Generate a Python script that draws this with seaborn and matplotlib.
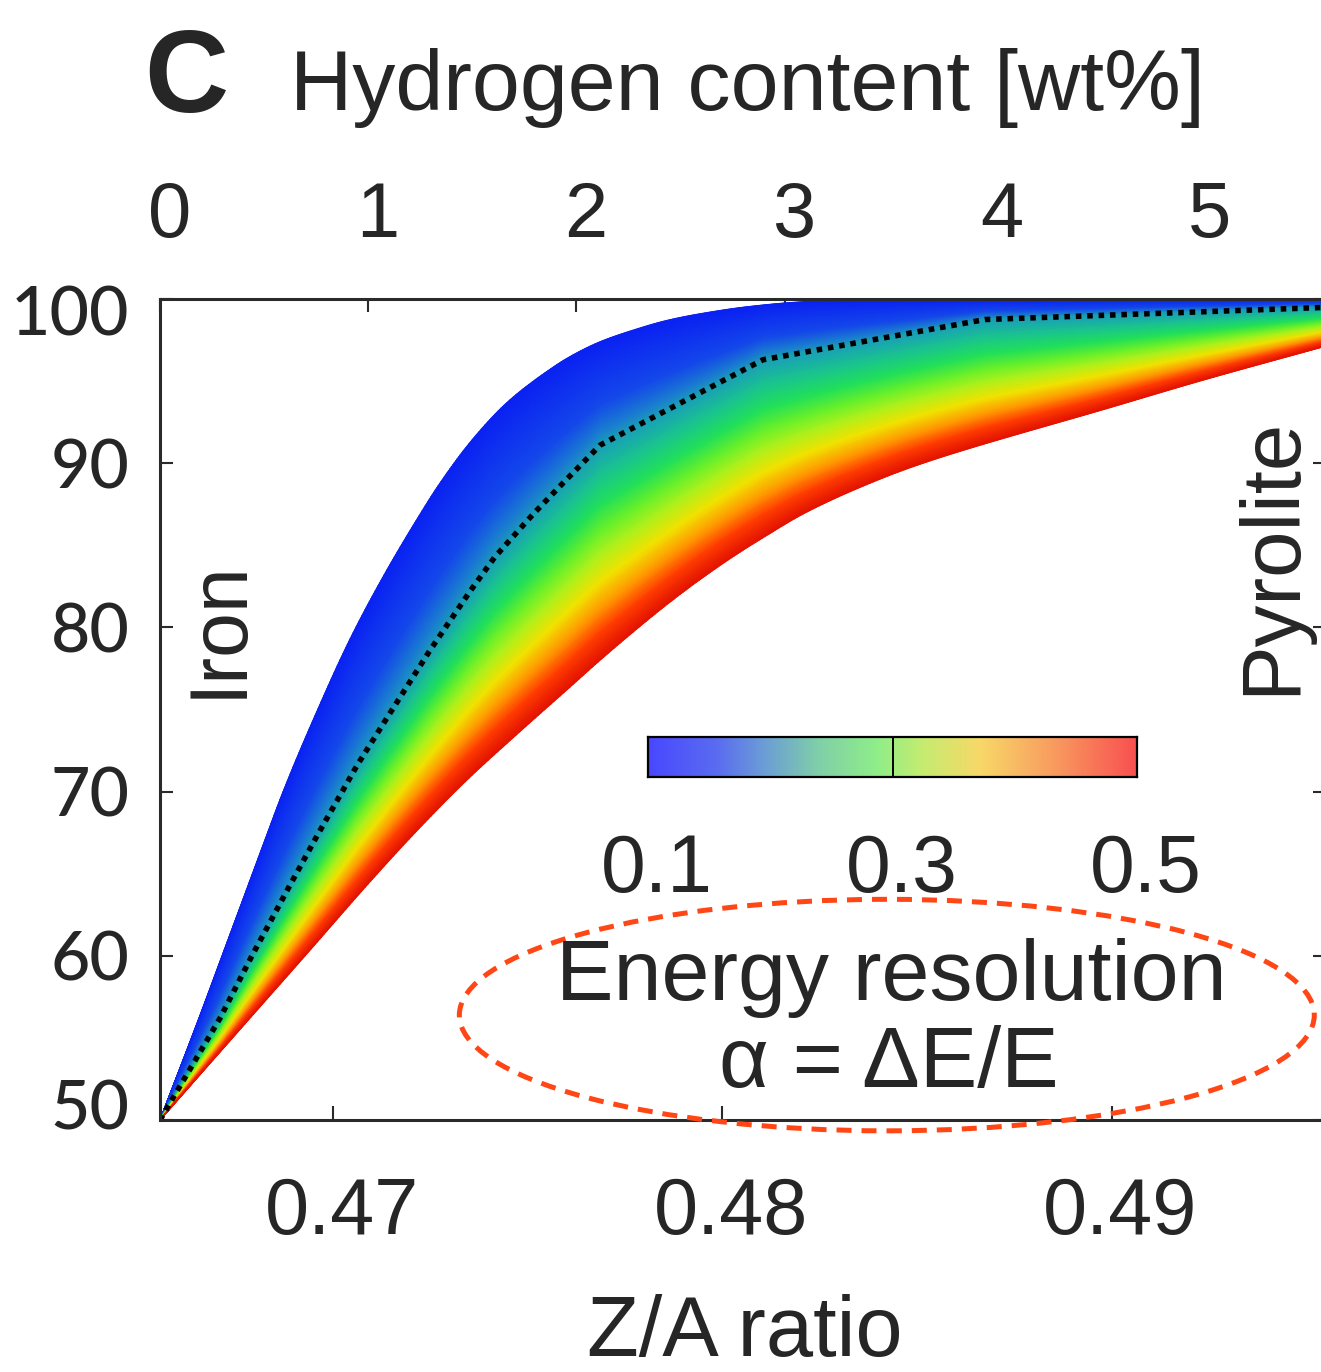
import numpy as np
import pandas as pd
import matplotlib
matplotlib.use("Agg")
import matplotlib.pyplot as plt
from matplotlib.colors import LinearSegmentedColormap
from matplotlib.patches import Ellipse
from matplotlib.transforms import ScaledTranslation
import seaborn as sns

# ---------------- data ----------------
# upper edge of the band: energy resolution alpha = 0.1
top_za = [0.46557, 0.46660, 0.46724, 0.46788, 0.46827, 0.46873, 0.46960, 0.47045,
          0.47130, 0.47217, 0.47276, 0.47361, 0.47448, 0.47533, 0.47610, 0.47687,
          0.47771, 0.47859, 0.47943, 0.48072, 0.48200, 0.48354, 0.49561]
top_val = [50.0, 56.4, 60.5, 64.6, 67.1, 70.0, 74.9, 79.3, 83.1, 86.6, 88.8, 91.5,
           93.7, 95.3, 96.5, 97.4, 98.1, 98.7, 99.1, 99.55, 99.82, 99.96, 100.0]

# dotted curve: alpha = 0.3
mid_za = [0.46557, 0.46711, 0.46793, 0.46886, 0.46960, 0.47063, 0.47148, 0.47250,
          0.47353, 0.47417, 0.47515, 0.47592, 0.47687, 0.48105, 0.48675, 0.49561]
mid_val = [50.0, 56.2, 60.0, 64.1, 67.3, 71.6, 74.8, 78.6, 82.2, 84.3, 86.9, 88.8,
           91.1, 96.3, 98.75, 99.5]

# lower edge of the band: alpha = 0.5
bot_za = [0.46557, 0.46788, 0.46937, 0.47096, 0.47212, 0.47345, 0.47474, 0.47602,
          0.47687, 0.47771, 0.47859, 0.47943, 0.48028, 0.48115, 0.48200, 0.48285,
          0.48372, 0.48457, 0.48542, 0.48629, 0.48714, 0.48970, 0.49227, 0.49561]
bot_val = [50.0, 56.2, 60.2, 64.5, 67.5, 70.7, 73.5, 76.2, 78.0, 79.7, 81.4, 82.9,
           84.3, 85.6, 86.8, 87.8, 88.7, 89.5, 90.2, 90.85, 91.45, 93.2, 95.0, 97.2]

alpha_levels = [0.1, 0.3, 0.5]
za_ticks = [0.47, 0.48, 0.49]
za_ticklabels = ["0.47", "0.48", "0.49"]
y_ticks = [50, 60, 70, 80, 90, 100]
y_ticklabels = ["50", "60", "70", "80", "90", "100"]
h_ticks = [0, 1, 2, 3, 4, 5]
h_ticklabels = ["0", "1", "2", "3", "4", "5"]
cbar_ticks = [0.1, 0.3, 0.5]
cbar_ticklabels = ["0.1", "0.3", "0.5"]
ZA_FE = 26 / 55.845   # Z/A of iron
ZA_H = 1.0            # Z/A of hydrogen
xlim = (0.46557, 0.49548)
ylim = (50, 100)

# ---------------- style ----------------
sns.set_theme(style="ticks")
plt.rcParams["font.family"] = ["Liberation Sans", "DejaVu Sans"]
plt.rcParams["axes.unicode_minus"] = False

W, H, DPI = 1321, 1372, 100
fig = plt.figure(figsize=(W / DPI, H / DPI), dpi=DPI, facecolor="white")


def px_box(x0, y0, x1, y1):
    return [x0 / W, 1 - y1 / H, (x1 - x0) / W, (y1 - y0) / H]


def pchip(x, y, xn):
    """Monotone cubic (Fritsch-Carlson) curve through the read points, for drawing."""
    x = np.asarray(x, float)
    y = np.asarray(y, float)
    h = np.diff(x)
    d = np.diff(y) / h
    m = np.zeros_like(y)
    for k in range(1, len(x) - 1):
        if d[k - 1] * d[k] > 0:
            w1 = 2 * h[k] + h[k - 1]
            w2 = h[k] + 2 * h[k - 1]
            m[k] = (w1 + w2) / (w1 / d[k - 1] + w2 / d[k])
    m[0] = d[0]
    m[-1] = d[-1]
    idx = np.clip(np.searchsorted(x, xn) - 1, 0, len(h) - 1)
    t = (xn - x[idx]) / h[idx]
    h00 = 2 * t**3 - 3 * t**2 + 1
    h10 = t**3 - 2 * t**2 + t
    h01 = -2 * t**3 + 3 * t**2
    h11 = t**3 - t**2
    return (h00 * y[idx] + h10 * h[idx] * m[idx]
            + h01 * y[idx + 1] + h11 * h[idx] * m[idx + 1])


ax = fig.add_axes(px_box(160, 299, 1325, 1120))
ax.set_facecolor("white")

band_cmap = LinearSegmentedColormap.from_list("band", [
    (0.00, "#0a22f2"), (0.30, "#1448ea"), (0.44, "#1a7ed0"), (0.52, "#19a8b0"),
    (0.58, "#1ac88a"), (0.64, "#22e05a"), (0.70, "#66f02c"), (0.76, "#b4f01a"),
    (0.82, "#f2e200"), (0.88, "#ff9c00"), (0.94, "#ff3c00"), (1.00, "#e41400")])

# band: curvilinear mesh between the three alpha curves
xs = np.linspace(min(top_za), max(top_za), 800)
y_top = pchip(top_za, top_val, xs)
y_mid = np.interp(xs, mid_za, mid_val)
y_bot = pchip(bot_za, bot_val, xs)
alphas = np.linspace(alpha_levels[0], alpha_levels[2], 161)
rows = []
for a in alphas:
    if a <= alpha_levels[1]:
        f = (a - alpha_levels[0]) / (alpha_levels[1] - alpha_levels[0])
        rows.append(y_top + (y_mid - y_top) * f)
    else:
        f = (a - alpha_levels[1]) / (alpha_levels[2] - alpha_levels[1])
        rows.append(y_mid + (y_bot - y_mid) * f)
Ygrid = np.array(rows)
Xgrid = np.tile(xs, (len(alphas), 1))
Cgrid = np.tile(alphas[:, None], (1, len(xs)))
ax.pcolormesh(Xgrid, Ygrid, Cgrid, cmap=band_cmap, vmin=0.1, vmax=0.5,
              shading="gouraud", zorder=1)

# dotted alpha = 0.3 curve
df_mid = pd.DataFrame({"za": mid_za, "val": mid_val})
sns.lineplot(data=df_mid, x="za", y="val", ax=ax, color="black", lw=4.0,
             sort=False, estimator=None, zorder=3)
ln = ax.lines[-1]
ln.set_dashes((1.0, 1.05))
ln.set_dash_capstyle("butt")

ax.set_xlim(*xlim)
ax.set_ylim(*ylim)
ax.set_xlabel("")
ax.set_ylabel("")

for s in ax.spines.values():
    s.set_visible(True)
    s.set_linewidth(2.2)
    s.set_color("#2a2a2a")
    s.set_zorder(5)

ax.set_xticks(za_ticks)
ax.set_xticklabels(za_ticklabels)
ax.set_yticks(y_ticks)
ax.set_yticklabels(y_ticklabels)
ax.tick_params(axis="x", which="major", direction="in", length=10, width=1.5,
               color="#2a2a2a", pad=40, labelsize=57, top=False, bottom=True)
ax.tick_params(axis="y", which="major", direction="in", length=9, width=1.5,
               color="#2a2a2a", pad=22, labelsize=49, left=True, right=True)
ylabels = ax.get_yticklabels()
for lbl in ylabels:
    lbl.set_fontfamily(["Lato", "DejaVu Sans"])
    lbl.set_fontweight("medium")
# the end labels sit slightly inside the frame, as in the reference
ylabels[0].set_transform(ylabels[0].get_transform()
                         + ScaledTranslation(0, 15 / DPI, fig.dpi_scale_trans))
ylabels[-1].set_transform(ylabels[-1].get_transform()
                          + ScaledTranslation(0, -12 / DPI, fig.dpi_scale_trans))


# top axis: hydrogen content
def za_to_h(z):
    return (np.asarray(z) - ZA_FE) / (ZA_H - ZA_FE) * 100.0


def h_to_za(h):
    return ZA_FE + np.asarray(h) / 100.0 * (ZA_H - ZA_FE)


sec = ax.secondary_xaxis("top", functions=(za_to_h, h_to_za))
sec.set_xticks(h_ticks)
sec.set_xticklabels(h_ticklabels)
sec.tick_params(axis="x", direction="in", length=9, width=1.5, color="#2a2a2a",
                pad=33, labelsize=56)
sec.spines["top"].set_visible(False)

shift = ScaledTranslation(9 / DPI, 0, fig.dpi_scale_trans)
for lbl in ax.get_xticklabels() + sec.get_xticklabels():
    lbl.set_transform(lbl.get_transform() + shift)

# vertical labels
ax.text(0.0508, 0.599, "Iron", transform=ax.transAxes, rotation=90,
        ha="center", va="center", fontsize=58)
ax.text(0.9545, 0.687, "Pyrolite", transform=ax.transAxes, rotation=90,
        ha="center", va="center", fontsize=60)

# dashed ellipse around the colour-bar caption
ell = Ellipse((0.48423, 56.39), width=0.02195, height=14.1, fill=False,
              edgecolor="#ff4614", lw=3.6, linestyle=(0, (3.0, 2.0)),
              clip_on=False, zorder=6)
ax.add_patch(ell)

# colour bar
cbar_cmap = LinearSegmentedColormap.from_list("cbar", [
    (0.00, "#4848ff"), (0.14, "#5a6cf0"), (0.23, "#6a9ad8"), (0.35, "#80d0a8"),
    (0.47, "#90ee88"), (0.56, "#c4ec70"), (0.68, "#f8d868"), (0.82, "#f8a060"),
    (1.00, "#f85050")])
cax = fig.add_axes(px_box(648, 737, 1137, 777))
cax.imshow(np.linspace(0.1, 0.5, 256)[None, :], extent=[0.1, 0.5, 0, 1],
           aspect="auto", cmap=cbar_cmap, vmin=0.1, vmax=0.5)
cax.axvline(alpha_levels[1], color="black", lw=1.4)
cax.set_xlim(0.1, 0.5)
cax.set_yticks([])
cax.set_xticks(cbar_ticks)
cax.set_xticklabels(cbar_ticklabels)
cax.tick_params(axis="x", length=0, pad=40, labelsize=58)
for s in cax.spines.values():
    s.set_visible(True)
    s.set_linewidth(1.6)
    s.set_color("black")
for lbl in cax.get_xticklabels():
    lbl.set_transform(lbl.get_transform() + shift)

# captions
fig.text(186 / W, 1 - 112 / H, "C", ha="center", va="baseline", fontsize=84,
         fontweight="bold")
fig.text(290 / W, 1 - 110 / H, "Hydrogen content [wt%]", ha="left",
         va="baseline", fontsize=62)
fig.text(891 / W, 1 - 1000 / H, "Energy resolution", ha="center",
         va="baseline", fontsize=62)
fig.text(889 / W, 1 - 1087 / H, "α = ΔE/E", ha="center", va="baseline",
         fontsize=62)
fig.text(745 / W, 1 - 1356 / H, "Z/A ratio", ha="center", va="baseline",
         fontsize=61)

fig.savefig("out.png", dpi=DPI, facecolor="white")
